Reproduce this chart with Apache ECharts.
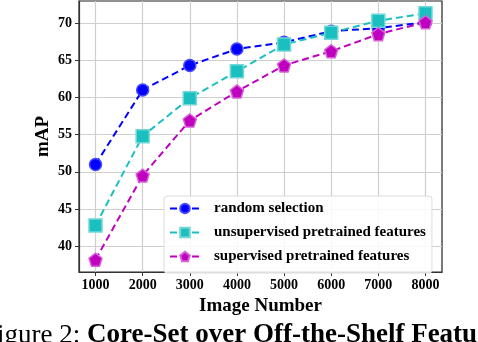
<!DOCTYPE html>
<html>
	<head>
		<meta charset="utf-8">
		<title></title>
		<script src="https://cdn.jsdelivr.net/npm/echarts@6/dist/echarts.min.js"></script>
	</head>
	<body style="margin:0;">
		<div id="my" style="width: 478px;height:342px;"></div>

		<script>
			var myChart = echarts.init(document.getElementById('my'));

			var imageNumber = [1000, 2000, 3000, 4000, 5000, 6000, 7000, 8000];
			var randomSel = [51.0, 61.0, 64.3, 66.5, 67.4, 68.9, 69.3, 70.1];
			var unsupFeat = [42.8, 54.8, 59.9, 63.5, 67.1, 68.7, 70.3, 71.3];
			var supFeat = [38.2, 49.5, 56.9, 60.8, 64.3, 66.2, 68.5, 70.1];
			var xTicks = [1000, 2000, 3000, 4000, 5000, 6000, 7000, 8000];
			var yTicks = [40, 45, 50, 55, 60, 65, 70];

			var serif = '"Liberation Serif", "DejaVu Serif", serif';
			var pentagon = 'path://M0,-1 L0.951,-0.309 L0.588,0.809 L-0.588,0.809 L-0.951,-0.309 Z';

			function pairs(ys) {
				return imageNumber.map(function (x, i) { return [x, ys[i]]; });
			}

			function line(name, ys, color, border, symbol, size) {
				return {
					name: name,
					type: 'line',
					data: pairs(ys),
					symbol: symbol,
					symbolSize: size,
					lineStyle: { color: color, width: 2, type: [7, 4] },
					itemStyle: { color: color, borderColor: border, borderWidth: 1.5 },
					emphasis: { disabled: true }
				};
			}

			var option = {
				animation: false,
				grid: {
					left: 79, right: 36, top: 1, bottom: 70,
					show: true, borderColor: '#222', borderWidth: 1.2
				},
				xAxis: {
					type: 'value',
					min: 650, max: 8350,
					name: 'Image Number',
					nameLocation: 'middle',
					nameGap: 25,
					nameMoveOverlap: false,
					nameTextStyle: { fontFamily: serif, fontWeight: 'bold', fontSize: 19, color: '#000' },
					axisLine: { lineStyle: { color: '#333', width: 1.2 } },
					axisTick: { show: true, customValues: xTicks, length: 4, lineStyle: { color: '#333' } },
					axisLabel: {
						customValues: xTicks, margin: 6,
						formatter: function (v) { return String(v); },
						fontFamily: serif, fontWeight: 'bold', fontSize: 14, color: '#000'
					},
					splitLine: { show: true, lineStyle: { color: '#cfcfcf', width: 1.2 } }
				},
				yAxis: {
					type: 'value',
					min: 36.55, max: 72.95,
					name: 'mAP',
					nameLocation: 'middle',
					nameGap: 26,
					nameMoveOverlap: false,
					nameTextStyle: { fontFamily: serif, fontWeight: 'bold', fontSize: 19, color: '#000' },
					axisLine: { show: true, lineStyle: { color: '#333', width: 1.2 } },
					axisTick: { show: true, customValues: yTicks, length: 4, lineStyle: { color: '#333' } },
					axisLabel: { customValues: yTicks, margin: 7, fontFamily: serif, fontWeight: 'bold', fontSize: 14, color: '#000' },
					splitLine: { show: true, lineStyle: { color: '#cfcfcf', width: 1.2 } }
				},
				legend: {
					orient: 'vertical',
					left: 164, top: 196,
					padding: [5, 6, 9, 5],
					itemWidth: 30, itemHeight: 12, itemGap: 9,
					backgroundColor: 'rgba(255,255,255,0.85)',
					borderColor: '#dcdcdc', borderWidth: 1, borderRadius: 3,
					textStyle: { fontFamily: serif, fontWeight: 'bold', fontSize: 15, color: '#000', padding: [0, 0, 0, 9] },
					data: ['random selection', 'unsupervised pretrained features', 'supervised pretrained features']
				},
				series: [
					line('random selection', randomSel, '#0000ff', '#4a4aff', 'circle', 12),
					line('unsupervised pretrained features', unsupFeat, '#1cbfbf', '#70d8d8', 'rect', 13),
					line('supervised pretrained features', supFeat, '#bf00bf', '#d860d8', pentagon, 13)
				],
				graphic: [
					{
						type: 'text', x: 87, y: 349,
						style: { text: 'Figure 2: ', font: '27px ' + serif, fill: '#000', textAlign: 'right', textVerticalAlign: 'bottom' }
					},
					{
						type: 'text', x: 87, y: 349,
						style: { text: 'Core-Set over Off-the-Shelf Features', font: 'bold 27px ' + serif, fill: '#000', textAlign: 'left', textVerticalAlign: 'bottom' }
					}
				]
			};

			myChart.setOption(option);
		</script>
	</body>
</html>
